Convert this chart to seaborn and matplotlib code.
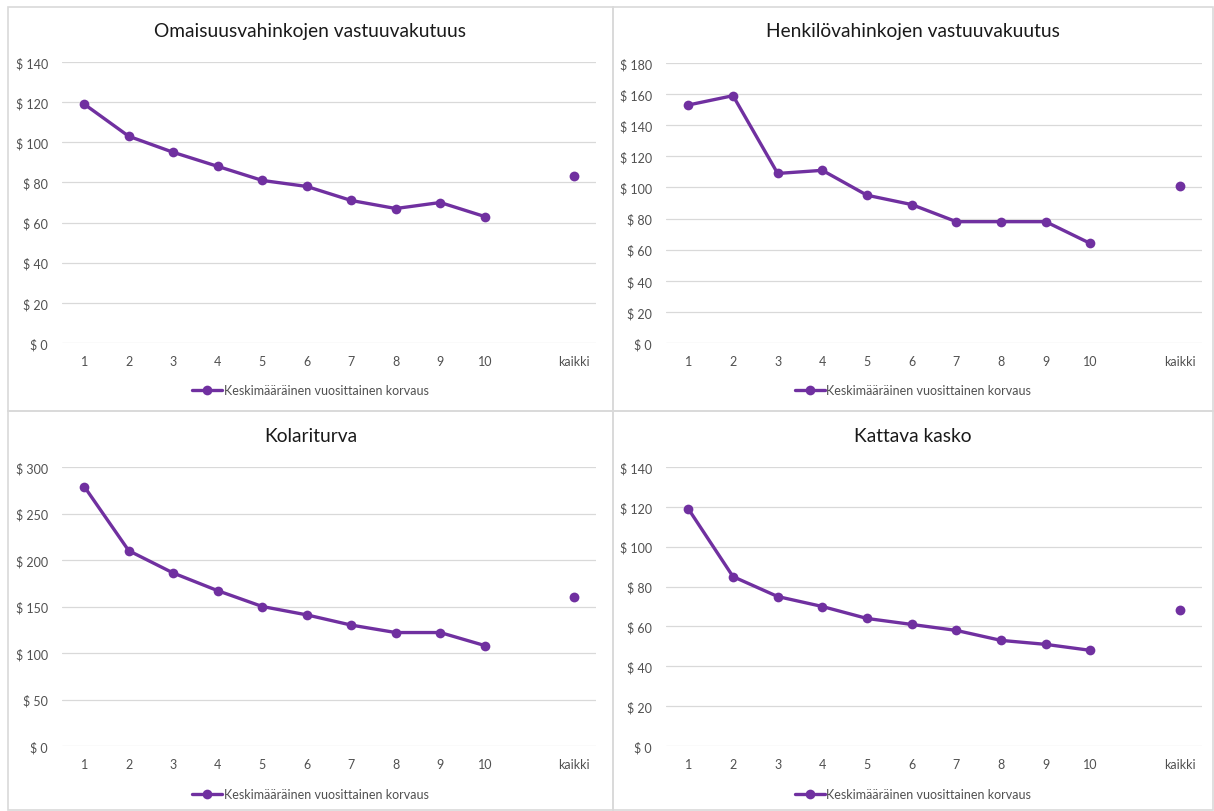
import matplotlib
matplotlib.use("Agg")
import matplotlib.pyplot as plt
from matplotlib.patches import Rectangle
from matplotlib.ticker import FuncFormatter, MultipleLocator
import seaborn as sns
import pandas as pd

# ---- data ----
categories = ["1", "2", "3", "4", "5", "6", "7", "8", "9", "10"]
all_label = "kaikki"
series_name = "Keskimääräinen vuosittainen korvaus"

titles = [
    "Omaisuusvahinkojen vastuuvakutuus",
    "Henkilövahinkojen vastuuvakuutus",
    "Kolariturva",
    "Kattava kasko",
]
omaisuus = [119, 103, 95, 88, 81, 78, 71, 67, 70, 63]
omaisuus_all = 83
henkilo = [153, 159, 109, 111, 95, 89, 78, 78, 78, 64]
henkilo_all = 101
kolari = [279, 210, 186, 167, 150, 141, 130, 122, 122, 108]
kolari_all = 160
kasko = [119, 85, 75, 70, 64, 61, 58, 53, 51, 48]
kasko_all = 68

y_max = [140, 180, 300, 140]
y_step = [20, 20, 50, 20]

# ---- style ----
sns.set_theme(style="white")
plt.rcParams["font.family"] = ["Lato", "DejaVu Sans"]

PURPLE = "#7030A0"
GRID = "#d9d9d9"
TEXT = "#505050"

W, H = 1214, 812
fig = plt.figure(figsize=(W / 100, H / 100), dpi=100)
fig.patch.set_facecolor("white")

def fx(px):
    return px / W

def fy(py):
    return 1 - py / H

# panel boxes (chart areas) in pixels: (x0, y0, x1, y1)
boxes = [(8, 8, 613, 412), (613, 8, 1213, 412), (8, 412, 613, 811), (613, 412, 1213, 811)]
# plot areas in pixels: (left, top, right, bottom)
plots = [(62, 63, 596, 344), (666, 64, 1202, 344), (62, 468, 596, 747), (666, 468, 1202, 747)]
title_y = [32, 32, 437, 437]
legend_y = [391, 391, 795, 795]

data = [(omaisuus, omaisuus_all), (henkilo, henkilo_all), (kolari, kolari_all), (kasko, kasko_all)]

for i in range(4):
    x0, y0, x1, y1 = boxes[i]
    fig.add_artist(Rectangle((fx(x0), fy(y1)), fx(x1 - x0), (y1 - y0) / H,
                             transform=fig.transFigure, fill=False,
                             edgecolor=GRID, linewidth=1.2, zorder=0))
    l, t, r, b = plots[i]
    ax = fig.add_axes([fx(l), fy(b), fx(r - l), (b - t) / H])
    vals, allv = data[i]
    df = pd.DataFrame({"pos": list(range(len(categories))), "value": vals})
    sns.lineplot(data=df, x="pos", y="value", ax=ax, color=PURPLE, linewidth=2.4,
                 marker="o", markersize=7, markeredgewidth=0, label=series_name)
    dfa = pd.DataFrame({"pos": [len(categories) + 1], "value": [allv]})
    sns.scatterplot(data=dfa, x="pos", y="value", ax=ax, color=PURPLE, s=50,
                    linewidth=0, legend=False)

    ax.set_xlim(-0.5, len(categories) + 1.5)
    ax.set_ylim(0, y_max[i])
    ax.yaxis.set_major_locator(MultipleLocator(y_step[i]))
    ax.yaxis.set_major_formatter(FuncFormatter(lambda v, p: f"$ {int(v)}"))
    ax.set_xticks(list(range(len(categories))) + [len(categories) + 1])
    ax.set_xticklabels(categories + [all_label])
    ax.tick_params(axis="both", length=0, labelsize=9, colors=TEXT, pad=9)
    ax.tick_params(axis="y", pad=10)
    ax.grid(axis="y", color=GRID, linewidth=0.9)
    ax.set_axisbelow(True)
    for s in ax.spines.values():
        s.set_visible(False)
    ax.set_xlabel("")
    ax.set_ylabel("")
    ax.patch.set_alpha(0)

    handles, labels = ax.get_legend_handles_labels()
    ax.get_legend().remove()
    cx = (x0 + x1) / 2
    fig.legend(handles, labels, loc="center", bbox_to_anchor=(fx(cx), fy(legend_y[i])),
               frameon=False, fontsize=9, labelcolor=TEXT, handlelength=2.4,
               handletextpad=0.1, borderaxespad=0)

    fig.text(fx(cx), fy(title_y[i]), titles[i], ha="center", va="center",
             fontsize=13.8, color="#1a1a1a")

fig.savefig("out.png", dpi=100, facecolor="white")
